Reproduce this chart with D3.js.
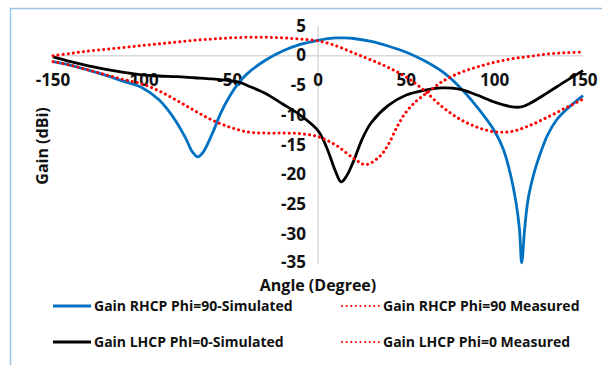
<!DOCTYPE html>
<html><head><meta charset="utf-8">
<script src="https://cdn.jsdelivr.net/npm/d3@7"></script>
<style>body{margin:0;background:#fff;}svg{display:block;}text{font-family:"Open Sans",Lato,sans-serif;font-weight:bold;fill:#111;}</style>
</head><body><svg id="c" width="602" height="365"></svg>
<script>
const xTicks = [-150,-100,-50,0,50,100,150];
const yTicks = [5,0,-5,-10,-15,-20,-25,-30,-35];
const seriesNames = ["Gain RHCP Phi=90-Simulated","Gain RHCP Phi=90 Measured","Gain LHCP PhI=0-Simulated","Gain LHCP Phi=0 Measured"];

const rhcpSimAngle = [-150,-140,-130,-120,-110,-100,-90,-85,-80,-75,-71,-68,-65,-60,-55,-50,-45,-40,-30,-20,-10,0,10,15,20,30,40,50,60,70,80,90,100,105,109,112,114,115.3,117,119,122.8,126.6,130,135,140,150];
const rhcpSimGain  = [-1.0,-1.6,-2.4,-3.3,-4.3,-5.3,-7.4,-9.1,-11.2,-13.8,-16.2,-17.0,-16.2,-13.2,-9.6,-6.8,-4.6,-3.0,-0.8,0.8,1.9,2.6,3.0,3.0,2.9,2.4,1.6,0.6,-0.8,-2.6,-5.2,-8.6,-12.7,-15.8,-20.0,-24.5,-29.0,-34.8,-29.0,-24.0,-19.2,-15.8,-13.3,-10.8,-9.2,-6.7];

const lhcpSimAngle = [-150,-140,-130,-120,-110,-100,-90,-80,-70,-60,-50,-44,-40,-30,-20,-10,0,5,10,13,16,20,25,30,40,50,60,70,80,90,100,110,115,120,130,140,150];
const lhcpSimGain  = [-0.2,-1.0,-1.7,-2.3,-2.8,-3.2,-3.4,-3.5,-3.7,-3.9,-4.2,-4.5,-5.0,-6.3,-8.1,-10.0,-12.6,-15.5,-19.5,-21.2,-20.3,-17.8,-14.0,-11.3,-8.3,-6.6,-5.8,-5.4,-5.6,-6.6,-7.8,-8.6,-8.6,-8.0,-6.2,-4.3,-2.5];

const rhcpMeasAngle = [-150,-140,-130,-120,-110,-100,-90,-80,-70,-60,-50,-40,-30,-20,-10,0,10,20,30,40,50,60,70,80,90,100,110,120,130,140,150];
const rhcpMeasGain  = [0.0,0.4,0.8,1.1,1.4,1.7,2.0,2.3,2.6,2.8,3.0,3.1,3.1,3.0,2.8,2.5,1.7,0.5,-0.7,-2.0,-3.6,-5.8,-8.5,-10.6,-12.0,-12.8,-12.7,-11.7,-10.3,-8.8,-7.3];

const lhcpMeasAngle = [-150,-140,-130,-120,-110,-100,-90,-80,-70,-60,-50,-40,-30,-20,-10,0,10,20,27,35,40,45,50,55,60,65,70,80,90,100,110,120,130,140,150];
const lhcpMeasGain  = [-1.0,-1.6,-2.4,-3.2,-4.0,-4.7,-5.9,-7.5,-9.2,-10.8,-12.0,-12.8,-13.0,-13.0,-13.1,-13.6,-15.0,-17.2,-18.3,-16.9,-14.8,-11.8,-9.4,-7.8,-6.6,-5.5,-4.4,-2.9,-1.9,-1.1,-0.5,-0.1,0.3,0.5,0.6];

const svg = d3.select("#c");
const x = d3.scaleLinear().domain([-150,150]).range([53,583]);
const y = d3.scaleLinear().domain([5,-35]).range([26,264]);

// border
svg.append("rect").attr("x",10.5).attr("y",8.5).attr("width",620).attr("height",400)
  .attr("fill","none").attr("stroke","#9DC3E6").attr("stroke-width",1.5);

// zero line and y axis
svg.append("line").attr("x1",x(-150)).attr("x2",x(150)).attr("y1",y(0)).attr("y2",y(0))
  .attr("stroke","#D9D9D9").attr("stroke-width",1.5);
svg.append("line").attr("x1",x(0)).attr("x2",x(0)).attr("y1",y(5)).attr("y2",y(-35))
  .attr("stroke","#D9D9D9").attr("stroke-width",1.5);

// tick labels
svg.append("g").selectAll("text").data(yTicks).join("text")
  .attr("x",306).attr("y",d=>y(d)+(d===-35?4:5.5)).attr("text-anchor","end").attr("font-size",17).text(d=>d);
svg.append("g").selectAll("text").data(xTicks).join("text")
  .attr("x",d=>x(d)).attr("y",86).attr("text-anchor","middle").attr("font-size",17).text(d=>d);

// axis titles
svg.append("text").attr("x",318).attr("y",290.5).attr("text-anchor","middle").attr("font-size",16).text("Angle (Degree)");
svg.append("text").attr("transform","translate(48,146) rotate(-90)").attr("text-anchor","middle").attr("font-size",16).text("Gain (dBi)");

const line = d3.line().x(d=>x(d[0])).y(d=>y(d[1])).curve(d3.curveCatmullRom.alpha(0.5));
const series = [
  {a:rhcpSimAngle,g:rhcpSimGain,color:"#0070C0",dash:null},
  {a:lhcpSimAngle,g:lhcpSimGain,color:"#000000",dash:null},
  {a:rhcpMeasAngle,g:rhcpMeasGain,color:"#FF0000",dash:"0.1 5"},
  {a:lhcpMeasAngle,g:lhcpMeasGain,color:"#FF0000",dash:"0.1 5"}
];
series.forEach(s=>{
  const p = svg.append("path").datum(d3.zip(s.a,s.g)).attr("d",line).attr("fill","none")
    .attr("stroke",s.color).attr("stroke-width",s.dash?3:2.8).attr("stroke-linejoin","round");
  if(s.dash) p.attr("stroke-dasharray",s.dash).attr("stroke-linecap","round");
});

// legend
const legend = [
  {name:seriesNames[0],color:"#0070C0",dash:null,lx:53,ly:306},
  {name:seriesNames[1],color:"#FF0000",dash:"0.1 4.5",lx:342,ly:306},
  {name:seriesNames[2],color:"#000000",dash:null,lx:53,ly:342},
  {name:seriesNames[3],color:"#FF0000",dash:"0.1 4.5",lx:342,ly:342}
];
legend.forEach(l=>{
  const ln = svg.append("line").attr("x1",l.lx).attr("x2",l.lx+38).attr("y1",l.ly).attr("y2",l.ly)
    .attr("stroke",l.color).attr("stroke-width",l.dash?2:3);
  if(l.dash) ln.attr("stroke-dasharray",l.dash).attr("stroke-linecap","round");
  svg.append("text").attr("x",l.lx+41).attr("y",l.ly+5).attr("font-size",14).text(l.name);
});
</script></body></html>
